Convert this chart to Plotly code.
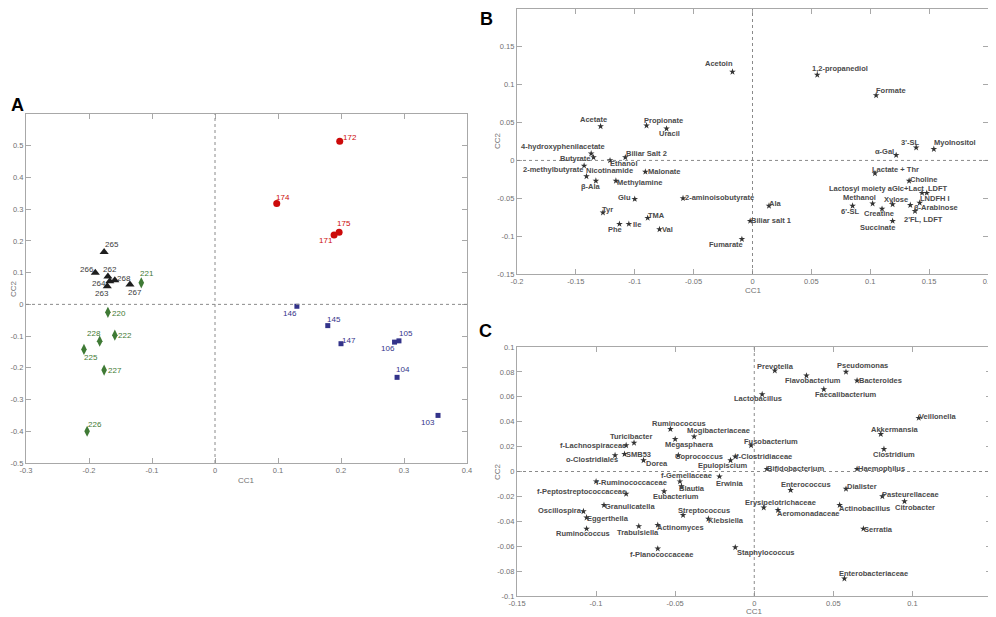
"""
Canonical correlation plots: samples (A), metabolites (B), bacteria (C)
"""

import plotly.graph_objects as go


# ---------------------------------------------------------------- panel A data
tri_names = ["265", "266", "262", "264", "263", "268", "267"]
tri_cc1   = [-0.176, -0.190, -0.170, -0.167, -0.171, -0.159, -0.135]
tri_cc2   = [0.165, 0.100, 0.088, 0.073, 0.057, 0.076, 0.063]

dia_names = ["221", "220", "222", "228", "225", "227", "226"]
dia_cc1   = [-0.117, -0.170, -0.159, -0.183, -0.208, -0.176, -0.203]
dia_cc2   = [0.068, -0.025, -0.097, -0.116, -0.142, -0.207, -0.400]

cir_names = ["172", "174", "175", "171"]
cir_cc1   = [0.198, 0.098, 0.197, 0.189]
cir_cc2   = [0.514, 0.318, 0.227, 0.219]

sq_names  = ["146", "145", "147", "106", "105", "104", "103"]
sq_cc1    = [0.130, 0.179, 0.200, 0.285, 0.292, 0.289, 0.354]
sq_cc2    = [-0.006, -0.067, -0.124, -0.119, -0.115, -0.230, -0.350]

# ---------------------------------------------------------------- panel B data
met_names = ["Acetoin", "Acetate", "Propionate", "Uracil", "4-hydroxyphenilacetate",
             "Butyrate", "Biliar Salt 2", "Ethanol", "2-methylbutyrate", "Nicotinamide",
             "Malonate", "β-Ala", "Methylamine", "Glu", "2-aminoisobutyrate", "Tyr",
             "TMA", "Phe", "Ile", "Val", "Fumarate", "1,2-propanediol", "Formate",
             "3'-SL", "MyoInositol", "α-Gal", "Lactate + Thr", "Choline",
             "Lactosyl moiety aGlc+Lact", "LDFT", "LNDFH I", "Methanol", "Xylose",
             "6'-SL", "β-Arabinose", "Creatine", "2'FL, LDFT", "Succinate", "Ala",
             "Biliar salt 1"]
met_cc1 = [-0.017, -0.129, -0.090, -0.073, -0.137, -0.135, -0.108, -0.121, -0.143, -0.141,
           -0.091, -0.133, -0.116, -0.100, -0.059, -0.127, -0.089, -0.113, -0.105, -0.079,
           -0.009, 0.055, 0.105, 0.139, 0.154, 0.122, 0.104, 0.133, 0.144, 0.148, 0.142,
           0.102, 0.119, 0.085, 0.134, 0.110, 0.138, 0.119, 0.014, -0.002]
met_cc2 = [0.117, 0.045, 0.046, 0.042, 0.009, 0.004, 0.004, 0.000, -0.007, -0.021,
           -0.015, -0.027, -0.027, -0.051, -0.050, -0.069, -0.076, -0.084, -0.084, -0.091,
           -0.104, 0.113, 0.086, 0.017, 0.015, 0.007, -0.017, -0.027, -0.043, -0.043, -0.056,
           -0.057, -0.058, -0.060, -0.059, -0.064, -0.067, -0.080, -0.060, -0.080]

# ---------------------------------------------------------------- panel C data
bac_names = ["Ruminococcus", "Mogibacteriaceae", "Megasphaera", "Turicibacter",
             "f-Lachnospiraceae", "o-Clostridiales", "SMB53", "Dorea", "Coprococcus",
             "f-Clostridiaceae", "Epulopiscium", "Fusobacterium", "f-Gemellaceae", "Blautia",
             "Erwinia", "f-Ruminococcaceae", "f-Peptostreptococcaceae", "Eubacterium",
             "Granulicatella", "Oscillospira", "Eggerthella", "Streptococcus", "Klebsiella",
             "Actinomyces", "Trabulsiella", "Ruminococcus", "f-Planococcaceae",
             "Staphylococcus", "Prevotella", "Pseudomonas", "Flavobacterium", "Bacteroides",
             "Faecalibacterium", "Lactobacillus", "Veillonella", "Akkermansia", "Clostridium",
             "Bifidobacterium", "Haemophilus", "Enterococcus", "Dialister", "Pasteurellaceae",
             "Citrobacter", "Erysipelotrichaceae", "Aeromonadaceae", "Actinobacillus",
             "Serratia", "Enterobacteriaceae"]
bac_cc1 = [-0.053, -0.038, -0.050, -0.076, -0.081, -0.088, -0.082, -0.070, -0.048,
           -0.012, -0.015, -0.002, -0.047, -0.046, -0.022, -0.100, -0.081, -0.057,
           -0.095, -0.108, -0.106, -0.045, -0.029, -0.061, -0.073, -0.106, -0.061,
           -0.012, 0.013, 0.058, 0.033, 0.065, 0.044, 0.005, 0.104, 0.080, 0.082,
           0.008, 0.065, 0.023, 0.058, 0.081, 0.095, 0.006, 0.015, 0.054, 0.069, 0.057]
bac_cc2 = [0.034, 0.028, 0.026, 0.023, 0.021, 0.013, 0.014, 0.009, 0.013,
           0.012, 0.009, 0.021, -0.008, -0.012, -0.004, -0.008, -0.018, -0.016,
           -0.027, -0.032, -0.037, -0.035, -0.038, -0.043, -0.044, -0.046, -0.062,
           -0.061, 0.081, 0.080, 0.077, 0.073, 0.066, 0.062, 0.043, 0.030, 0.018,
           0.002, 0.002, -0.015, -0.014, -0.020, -0.024, -0.029, -0.031, -0.027,
           -0.046, -0.086]

# label centre offsets from each mark, screen px (dx right, dy down) - styling only
tri_off = [(8, -8), (-8, -3), (2, -7), (-11, 2), (-5, 7), (9, -2), (5, 8)]
dia_off = [(6, -9), (11, 1), (10, 0), (-6, -8), (7, 8), (11, 0), (8, -7)]
cir_off = [(10, -4), (6, -6), (5, -9), (-8, 6)]
sq_off  = [(-7, 7), (6, -6), (8, -3), (-7, 6), (7, -7), (6, -8), (-10, 7)]
met_off = [(-13, -8), (-7, -7), (17, -5), (3, 5), (-28, -7), (-19, 1), (21, -4), (14, 3),
           (-31, 4), (23, -6), (19, 0), (-5, 6), (24, 2), (-10, -2), (36, -1), (5, -3),
           (9, -2), (-4, 5), (8, 0), (8, 0), (-16, 5), (23, -6), (15, -5), (-6, -5),
           (21, -7), (-12, -4), (21, -4), (15, -1), (-46, -4), (11, -4), (15, -4), (-13, -6),
           (3, -5), (-3, 6), (26, 2), (-3, 5), (8, 8), (-15, 6), (7, -2), (21, -1)]
bac_off = [(9, -6), (24, -6), (14, 5), (-3, -6), (-33, 0), (-23, 4), (14, 0), (13, 3),
           (21, 1), (29, 0), (-8, 5), (20, -4), (7, -6), (11, 2), (11, 7), (35, 1),
           (-45, -2), (12, 5), (26, 1), (-23, -1), (21, 1), (21, -5), (18, 2), (23, 2),
           (-1, 6), (-4, 5), (4, 6), (31, 5), (1, -4), (17, -6), (7, 5), (23, 0),
           (22, 5), (-4, 4), (19, -1), (14, -5), (10, 5), (29, -1), (24, -1), (15, -6),
           (16, -2), (28, -2), (10, 6), (17, -5), (31, 3), (25, 3), (15, 1), (29, -5)]

FONT = "Liberation Sans, Arial, sans-serif"
GRID = "#a8a8a8"
PAD = 8                      # page margin around the plot div
W, H = 996 - PAD, 617 - PAD


def px_x(p):
    return (p - PAD) / W


def px_y(p):
    return 1 - (p - PAD) / H


def clamp(v):
    return min(1.0, max(0.0, v))


def fmt(v):
    s = f"{v:.2f}".rstrip("0").rstrip(".")
    return "0" if s in ("-0", "0") else s


def ticks(lo, hi, step):
    n = int(round((hi - lo) / step))
    vals = [round(lo + i * step, 4) for i in range(n + 1)]
    return vals, [fmt(v) for v in vals]


fig = go.Figure()


def add_labels(names, xs, ys, offs, xa, ya, font):
    for name, x, y, (dx, dy) in zip(names, xs, ys, offs):
        fig.add_annotation(text=name, x=x, y=y, xref=xa, yref=ya, showarrow=False,
                           xanchor="center", yanchor="middle", xshift=dx, yshift=-dy,
                           borderpad=0, font=font)


# ---------------------------------------------------------------- panel A
groups = [
    (tri_names, tri_cc1, tri_cc2, tri_off, "triangle-up", 8, "#1e1e1e", "#3a3a3a"),
    (dia_names, dia_cc1, dia_cc2, dia_off, "diamond-tall", 8, "#3f7a35", "#3f7a35"),
    (cir_names, cir_cc1, cir_cc2, cir_off, "circle", 7, "#cc0a0a", "#cc0a0a"),
    (sq_names, sq_cc1, sq_cc2, sq_off, "square", 5, "#33338a", "#33338a"),
]
for names, xs, ys, offs, sym, size, col, tcol in groups:
    fig.add_trace(go.Scatter(
        x=xs, y=ys, text=names, mode="markers", cliponaxis=False,
        marker=dict(symbol=sym, size=size, color=col),
        xaxis="x", yaxis="y", hoverinfo="text", showlegend=False))
    add_labels(names, xs, ys, offs, "x", "y", dict(family=FONT, size=8, color=tcol))

# ---------------------------------------------------------------- panels B, C
for xs, ys, names, offs, xa, ya in [(met_cc1, met_cc2, met_names, met_off, "x2", "y2"),
                                    (bac_cc1, bac_cc2, bac_names, bac_off, "x3", "y3")]:
    fig.add_trace(go.Scatter(
        x=xs, y=ys, text=names, mode="markers", cliponaxis=False,
        marker=dict(symbol="star", size=5, color="#333"),
        xaxis=xa, yaxis=ya, hoverinfo="text", showlegend=False))
    add_labels(names, xs, ys, offs, xa, ya,
               dict(family=FONT, size=7.5, color="#4a4a4a", weight="bold"))


def axis(p0, p1, rng, tv, tt, anchor, vertical=False):
    dom = [px_y(p1), px_y(p0)] if vertical else [px_x(p0), px_x(p1)]
    return dict(
        domain=[clamp(dom[0]), clamp(dom[1])], range=rng, tickvals=tv, ticktext=tt,
        anchor=anchor, showline=True, mirror="ticks", linecolor=GRID, linewidth=1.2,
        automargin=False, ticks="inside", ticklen=5, tickcolor=GRID,
        showgrid=False, zeroline=False,
        tickfont=dict(family=FONT, size=7.5, color="#707070"),
    )


ax_vals, ax_text = ticks(-0.3, 0.4, 0.1)
ay_vals, ay_text = ticks(-0.5, 0.5, 0.1)
bx_vals, bx_text = ticks(-0.2, 0.2, 0.05)
by_vals, by_text = ticks(-0.15, 0.2, 0.05)
cx_vals, cx_text = ticks(-0.15, 0.1, 0.05)
cy_vals, cy_text = ticks(-0.1, 0.1, 0.02)

# panel frames in page pixels: left, right / top, bottom
fig.update_layout(
    template="none",
    width=W, height=H,
    margin=dict(l=0, r=0, t=0, b=0),
    paper_bgcolor="white", plot_bgcolor="white",
    xaxis=axis(26, 467, [-0.3, 0.4], ax_vals, ax_text, "y"),
    yaxis=axis(114, 463, [-0.5, 0.6], ay_vals, ay_text, "x", vertical=True),
    xaxis2=axis(517, 988, [-0.2, 0.2], bx_vals, bx_text, "y2"),
    yaxis2=axis(9, 274, [-0.15, 0.2], by_vals, by_text, "x2", vertical=True),
    xaxis3=axis(517, 991.5, [-0.15, 0.15], cx_vals, cx_text, "y3"),
    yaxis3=axis(347, 596, [-0.1, 0.1], cy_vals, cy_text, "x3", vertical=True),
)

# dotted zero lines
for xr, yr in [("x", "y"), ("x2", "y2"), ("x3", "y3")]:
    fig.add_shape(type="line", xref=xr, yref=yr + " domain", x0=0, x1=0, y0=0, y1=1,
                  line=dict(color="#8a8a8a", width=1, dash="dot"))
    fig.add_shape(type="line", xref=xr + " domain", yref=yr, x0=0, x1=1, y0=0, y1=0,
                  line=dict(color="#8a8a8a", width=1, dash="dot"))

# axis titles
for text, px, py, ang in [("CC1", 246, 480, 0), ("CC2", 13, 289, -90),
                          ("CC1", 753, 290, 0), ("CC2", 497, 141, -90),
                          ("CC1", 754, 611, 0), ("CC2", 497, 472, -90)]:
    fig.add_annotation(text=text, xref="paper", yref="paper", x=px_x(px), y=px_y(py),
                       xanchor="center", yanchor="middle", showarrow=False, textangle=ang,
                       font=dict(family=FONT, size=8, color="#707070"))

# panel letters
for letter, px, py in [("A", 17, 105), ("B", 486, 19), ("C", 485, 331)]:
    fig.add_annotation(text=f"<b>{letter}</b>", xref="paper", yref="paper",
                       x=px_x(px), y=px_y(py), xanchor="center", yanchor="middle",
                       showarrow=False, font=dict(family=FONT, size=18, color="black"))

fig.write_html("out.html")
